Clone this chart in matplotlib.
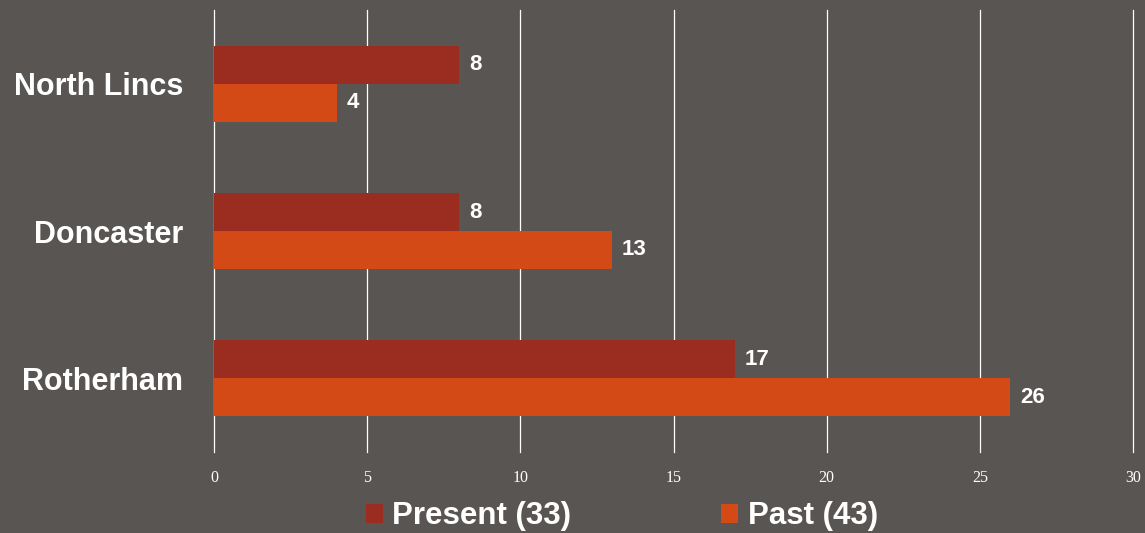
import matplotlib
matplotlib.use("Agg")
import matplotlib.pyplot as plt
from matplotlib.patches import Patch
import numpy as np

categories = ["Rotherham", "Doncaster", "North Lincs"]
present = [17, 8, 8]
past = [26, 13, 4]
series_labels = ["Present (33)", "Past (43)"]
xticks = [0, 5, 10, 15, 20, 25, 30]

bg = "#595553"
c_present = "#9B2D20"
c_past = "#D34A17"

fig = plt.figure(figsize=(11.45, 5.33), dpi=100, facecolor=bg)
ax = fig.add_axes([214/1145, 1-452/533, (1133-214)/1145, (452-10)/533])
ax.set_facecolor(bg)

y = np.arange(len(categories))
h = 0.257
bp = ax.barh(y + h/2, present, height=h, color=c_present, zorder=3)
bq = ax.barh(y - h/2, past, height=h, color=c_past, zorder=3)

for bars in (bp, bq):
    for b in bars:
        ax.annotate(f"{int(b.get_width())}", (b.get_width(), b.get_y() + b.get_height()/2),
                    xytext=(7, 0), textcoords="offset points", va="center", ha="left",
                    color="white", fontsize=16, fontweight="bold", family="Liberation Sans")

ax.set_xlim(0, 30)
ax.set_ylim(-0.5, 2.5)
ax.set_xticks(xticks)
ax.set_xticklabels([str(t) for t in xticks], family="Liberation Serif", fontsize=11.5, color="white")
ax.set_yticks(y)
ax.set_yticklabels(categories, family="Liberation Sans", fontsize=22, fontweight="bold", color="white")
ax.tick_params(axis="both", length=0)
ax.tick_params(axis="x", pad=13)
ax.tick_params(axis="y", pad=22)
ax.grid(axis="x", color="white", linewidth=0.9, zorder=0)
for line in ax.get_xgridlines():
    line.set_clip_on(False)
for s in ax.spines.values():
    s.set_visible(False)

handles = [Patch(facecolor=c_present), Patch(facecolor=c_past)]
leg = fig.legend(handles, series_labels, loc="center", bbox_to_anchor=(0.543, 0.031), ncol=2,
                 frameon=False, prop={"family": "Liberation Sans", "weight": "bold", "size": 22.5},
                 handlelength=0.55, handleheight=0.55, handletextpad=0.3, columnspacing=4.8,
                 labelcolor="white", borderpad=0, borderaxespad=0)

fig.savefig("out.png", dpi=100, facecolor=bg)
